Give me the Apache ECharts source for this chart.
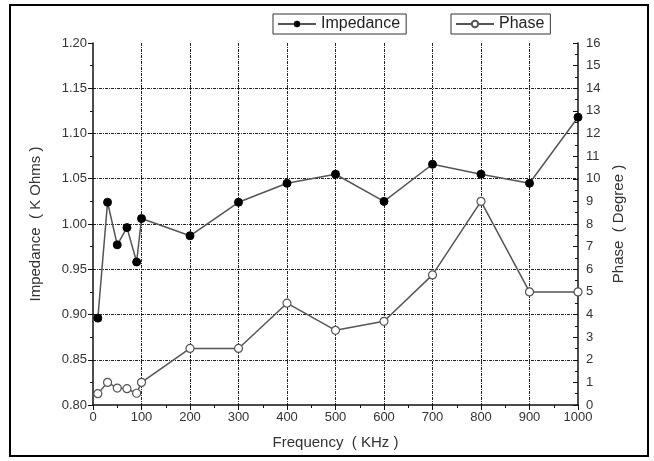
<!DOCTYPE html>
<html>
<head>
<meta charset="utf-8">
<script src="https://cdn.jsdelivr.net/npm/echarts@6/dist/echarts.min.js"></script>
<style>
  html, body { margin: 0; padding: 0; background: #fff; }
  #chart { width: 654px; height: 461px; }
</style>
</head>
<body>
<div id="chart"></div>
<script>
// frequency (KHz)
const freq = [10, 30, 50, 70, 90, 100, 200, 300, 400, 500, 600, 700, 800, 900, 1000];
// impedance (K Ohms), left axis
const impedance = [0.896, 1.024, 0.977, 0.996, 0.958, 1.006, 0.987, 1.024, 1.045, 1.055, 1.025, 1.066, 1.055, 1.045, 1.118];
// phase (degree), right axis
const phase = [0.5, 1.0, 0.75, 0.72, 0.52, 1.0, 2.5, 2.5, 4.5, 3.3, 3.7, 5.75, 9.0, 5.0, 5.0];

const font = 'Liberation Sans, Arial, sans-serif';
const gridStyle = { color: '#222', width: 1, type: [3, 1, 1, 1] };

const chart = echarts.init(document.getElementById('chart'));
chart.setOption({
  animation: false,
  backgroundColor: '#fff',
  textStyle: { fontFamily: font },
  graphic: [{
    type: 'rect', shape: { x: 10, y: 5, width: 638, height: 451 },
    style: { fill: 'none', stroke: '#000', lineWidth: 2 }
  }],
  grid: { left: 93, right: 76, top: 43, bottom: 56 },
  legend: [
    { data: ['Impedance'], left: 273, top: 14, padding: [2, 6, 2, 4],
      borderColor: '#333', borderWidth: 1, itemWidth: 38, itemHeight: 8, itemGap: 0,
      textStyle: { fontSize: 16, color: '#222', fontFamily: font } },
    { data: ['Phase'], left: 451, top: 14, padding: [2, 6, 2, 4],
      borderColor: '#333', borderWidth: 1, itemWidth: 38, itemHeight: 8, itemGap: 0,
      textStyle: { fontSize: 16, color: '#222', fontFamily: font } }
  ],
  xAxis: {
    type: 'value', min: 0, max: 1000, interval: 100,
    name: 'Frequency  ( KHz )', nameLocation: 'middle', nameGap: 30,
    nameTextStyle: { fontSize: 15, color: '#333', fontFamily: font },
    axisLine: { lineStyle: { color: '#111', width: 1.5 } },
    axisTick: { length: 5, lineStyle: { color: '#111' } },
    minorTick: { show: true, splitNumber: 2, length: 3, lineStyle: { color: '#111' } },
    axisLabel: { fontSize: 13, color: '#333', margin: 6, formatter: v => String(v) },
    splitLine: { show: true, showMinLine: false, showMaxLine: false, lineStyle: gridStyle }
  },
  yAxis: [{
    type: 'value', min: 0.8, max: 1.2, interval: 0.05, position: 'left',
    name: 'Impedance  ( K Ohms )', nameLocation: 'middle', nameGap: 50,
    nameTextStyle: { fontSize: 15, color: '#333', fontFamily: font },
    axisLine: { show: true, lineStyle: { color: '#111', width: 1.5 } },
    axisTick: { show: true, length: 5, lineStyle: { color: '#111' } },
    minorTick: { show: true, splitNumber: 2, length: 3, lineStyle: { color: '#111' } },
    axisLabel: { fontSize: 13, color: '#333', margin: 6, formatter: v => v.toFixed(2) },
    splitLine: { show: true, showMinLine: false, showMaxLine: false, lineStyle: gridStyle }
  }, {
    type: 'value', min: 0, max: 16, interval: 1, position: 'right',
    name: 'Phase  ( Degree )', nameLocation: 'middle', nameGap: 32, nameRotate: 90,
    nameTextStyle: { fontSize: 15, color: '#333', fontFamily: font },
    axisLine: { show: true, lineStyle: { color: '#111', width: 1.5 } },
    axisTick: { show: true, inside: true, length: 5, lineStyle: { color: '#111' } },
    minorTick: { show: true, splitNumber: 2, length: 3, lineStyle: { color: '#111' } },
    axisLabel: { fontSize: 13, color: '#333', margin: 8 },
    splitLine: { show: false }
  }],
  series: [{
    name: 'Impedance', type: 'line', yAxisIndex: 0,
    data: freq.map((f, i) => [f, impedance[i]]),
    symbol: 'circle', symbolSize: 8,
    lineStyle: { color: '#555', width: 1.5 },
    itemStyle: { color: '#000', borderColor: '#000' },
    clip: false
  }, {
    name: 'Phase', type: 'line', yAxisIndex: 1,
    data: freq.map((f, i) => [f, phase[i]]),
    symbol: 'circle', symbolSize: 8,
    lineStyle: { color: '#555', width: 1.5 },
    itemStyle: { color: '#fff', borderColor: '#555', borderWidth: 1.2 },
    clip: false
  }]
});
</script>
</body>
</html>
